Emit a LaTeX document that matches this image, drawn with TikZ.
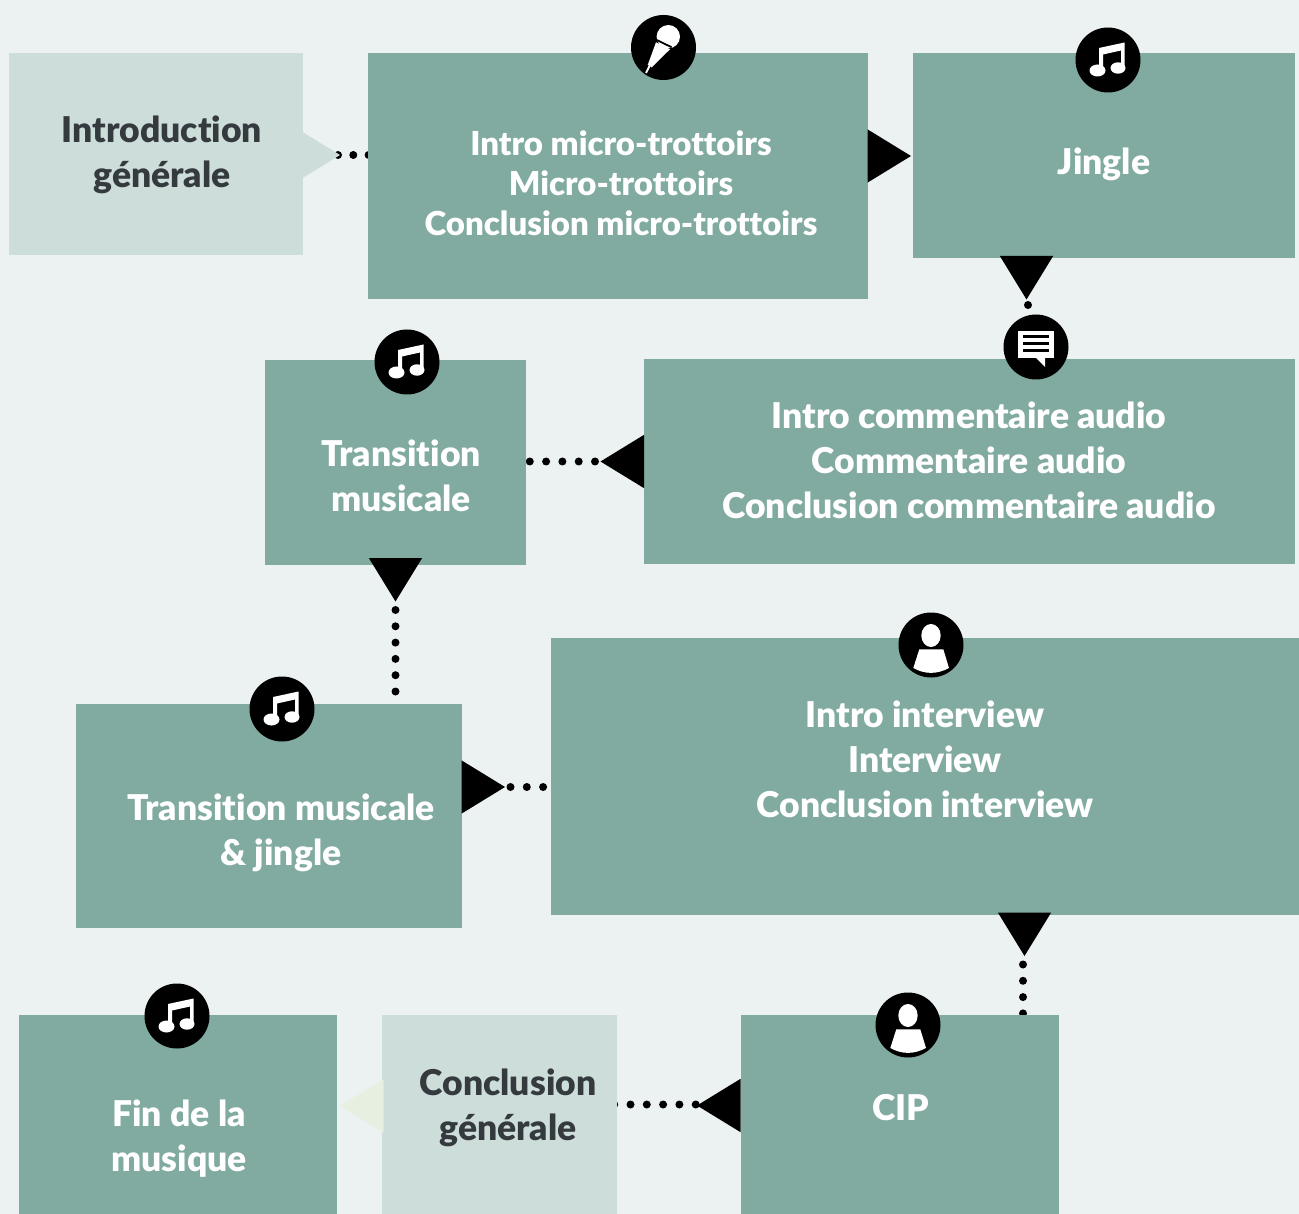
\documentclass[tikz,border=0pt]{standalone}
\usepackage{fontspec}
\setmainfont{Lato}[BoldFont={Lato Black}, Ligatures=NoCommon]
\usetikzlibrary{shapes.geometric, backgrounds}

\definecolor{pagebg}{HTML}{ECF2F2}
\definecolor{boxgreen}{HTML}{81AAA1}
\definecolor{boxpale}{HTML}{CDDDD9}
\definecolor{tippale}{HTML}{E6EFE0}
\definecolor{inkdark}{HTML}{343A3D}

\tikzset{
  segment/.style={rectangle, fill=boxgreen, inner sep=0pt, outer sep=0pt, anchor=north west},
  palesegment/.style={segment, fill=boxpale},
  lighttext/.style={align=center, text=white, font=\fontsize{35.5}{45}\selectfont\bfseries},
  darktext/.style={lighttext, text=inkdark},
  tip/.style={isosceles triangle, isosceles triangle apex angle=63, fill=black, inner sep=0pt, outer sep=0pt,
    minimum width=43.5pt, minimum height=43.5pt, anchor=apex},
  dotlink/.style={line width=8pt, line cap=round, dash pattern=on 0pt off 16.3pt, black},
  badge/.style={circle, fill=black, minimum size=65pt, inner sep=0pt},
  pics/musicglyph/.style={code={
    \fill[white] (-9,-12) -- (16.5,-17.5) -- (16.5,8) -- (13,8) -- (13,-9.5) -- (-5,-5.5) -- (-5,10.5) -- (-9,10.5) -- cycle;
    \fill[white] (-10.5,10.5) ellipse (8 and 6);
    \fill[white] (10,8) ellipse (7.5 and 5.7);
  }},
  pics/chatglyph/.style={code={
    \fill[white] (-18.3,-16.3) rectangle (18,11);
    \fill[white] (0,11) -- (9,20) -- (9,11) -- cycle;
    \foreach \y in {-10.3,-3,4} {
      \draw[black, line width=3pt] (-13,\y) -- (13,\y);
    }
  }},
  pics/personglyph/.style={code={
    \fill[white] (0,-9.5) ellipse (9.7 and 11.5);
    \fill[white] (-11.7,4.3) -- (12.3,4.3) -- (18,23) .. controls (6,29.5) and (-6,29.5) .. (-17.7,23) -- cycle;
  }},
  pics/micglyph/.style={code={
    \fill[white] (4.8,-10.8) circle (11.7);
    \fill[white] (-7.5,-5.2) -- (6.5,1.8) -- (-11.8,19.8) -- (-15.8,17.5) -- cycle;
    \draw[white, line width=2pt] (-14,18.5) -- (-17.5,25.5);
    \draw[black, line width=1.8pt] (-6.8,-7.5) -- (8.2,-0.2);
  }},
}

\begin{document}
\begin{tikzpicture}[x=1pt, y=-1pt]
  \useasboundingbox (0,0) rectangle (1299,1214);

  % boxes
  \node[palesegment, minimum width=294pt, minimum height=202pt] (intro) at (9,53) {};
  \node[segment, minimum width=500pt, minimum height=246pt] (micro) at (368,53) {};
  \node[segment, minimum width=382pt, minimum height=205pt] (jingle) at (913,53) {};
  \node[segment, minimum width=651pt, minimum height=205pt] (comment) at (644,359) {};
  \node[segment, minimum width=261pt, minimum height=205pt] (transition) at (265,360) {};
  \node[segment, minimum width=748pt, minimum height=277pt] (interview) at (551,638) {};
  \node[segment, minimum width=386pt, minimum height=224pt] (transjingle) at (76,704) {};
  \node[segment, minimum width=318pt, minimum height=199pt] (fin) at (19,1015) {};
  \node[palesegment, minimum width=235pt, minimum height=199pt] (conclusion) at (382,1015) {};
  \node[segment, minimum width=318pt, minimum height=199pt] (cip) at (741,1015) {};

  % texts
  \node[darktext] (introtext) at (162,155) {Introduction\\générale};
  \node[lighttext, font=\fontsize{33}{40}\selectfont\bfseries] (microtext) at (621,183) {Intro micro-trottoirs\\Micro-trottoirs\\Conclusion micro-trottoirs};
  \node[lighttext] (jingletext) at (1104,164) {Jingle};
  \node[lighttext] (commenttext) at (969,460) {Intro commentaire audio\\Commentaire audio\\Conclusion commentaire audio};
  \node[lighttext] (transitiontext) at (401,476) {Transition\\musicale};
  \node[lighttext] (interviewtext) at (925,759) {Intro interview\\Interview\\Conclusion interview};
  \node[lighttext] (transjingletext) at (281,833) {Transition musicale\\\& jingle};
  \node[lighttext] (fintext) at (179,1139) {Fin de la\\musique};
  \node[darktext] (conclusiontext) at (508,1108) {Conclusion\\générale};
  \node[lighttext] (ciptext) at (901,1108) {CIP};

  % triangles
  \node[tip, fill=boxpale, shape border rotate=0] (tipintro) at (340,155) {};
  \node[tip, shape border rotate=0] (tipmicro) at (911,156) {};
  \node[tip, shape border rotate=-90] (tipjingle) at (1026.5,299.5) {};
  \node[tip, shape border rotate=180] (tipcomment) at (600.5,461.5) {};
  \node[tip, shape border rotate=-90] (tiptransition) at (395.5,601.5) {};
  \node[tip, shape border rotate=0] (tipjoin) at (505,787) {};
  \node[tip, shape border rotate=-90] (tipinterview) at (1024.5,956) {};
  \node[tip, shape border rotate=180] (tipcip) at (697,1105.5) {};
  \node[tip, fill=tippale, shape border rotate=180] (tipfin) at (340,1106) {};

  % dotted links go under the boxes
  \begin{scope}[on background layer]
    \fill[pagebg] (0,0) rectangle (1299,1214);
    \draw[dotlink, dash pattern=on 0pt off 15.3pt] ([xshift=-2pt]tipintro.apex) -- (tipintro.apex -| micro.center);
    \draw[dotlink] ([xshift=1.5pt, yshift=-5.5pt]tipjingle.apex) -- (tipjingle.apex |- comment.north);
    \draw[dotlink] ([xshift=-5.5pt]tipcomment.apex) -- (tipcomment.apex -| transition.center);
    \draw[dotlink] ([yshift=-8.5pt]tiptransition.apex) -- (tiptransition.apex |- transjingle.north);
    \draw[dotlink] ([xshift=5.5pt]tipjoin.apex) -- (tipjoin.apex -| interview.center);
    \draw[dotlink] ([xshift=-1.5pt, yshift=-8.5pt]tipinterview.apex) -- ([xshift=-1.5pt]tipinterview.apex |- cip.center);
    \draw[dotlink] ([xshift=-1.3pt, yshift=1pt]tipcip.apex) -- ([yshift=1pt]tipcip.apex -| conclusion.center);
  \end{scope}

  % icons
  \node[badge] (micbadge) at (663.5,47.5) {};
  \pic at (micbadge.center) {micglyph};
  \node[badge] (jinglebadge) at (1108,60) {};
  \pic at (jinglebadge.center) {musicglyph};
  \node[badge] (commentbadge) at (1036,347) {};
  \pic at (commentbadge.center) {chatglyph};
  \node[badge] (transitionbadge) at (407,362) {};
  \pic at (transitionbadge.center) {musicglyph};
  \node[badge] (transjinglebadge) at (282,709) {};
  \pic at (transjinglebadge.center) {musicglyph};
  \node[badge] (finbadge) at (177,1016) {};
  \pic at (finbadge.center) {musicglyph};
  \node[badge] (interviewbadge) at (931,645) {};
  \pic at (interviewbadge.center) {personglyph};
  \node[badge] (cipbadge) at (908,1025) {};
  \pic at (cipbadge.center) {personglyph};
\end{tikzpicture}
\end{document}
